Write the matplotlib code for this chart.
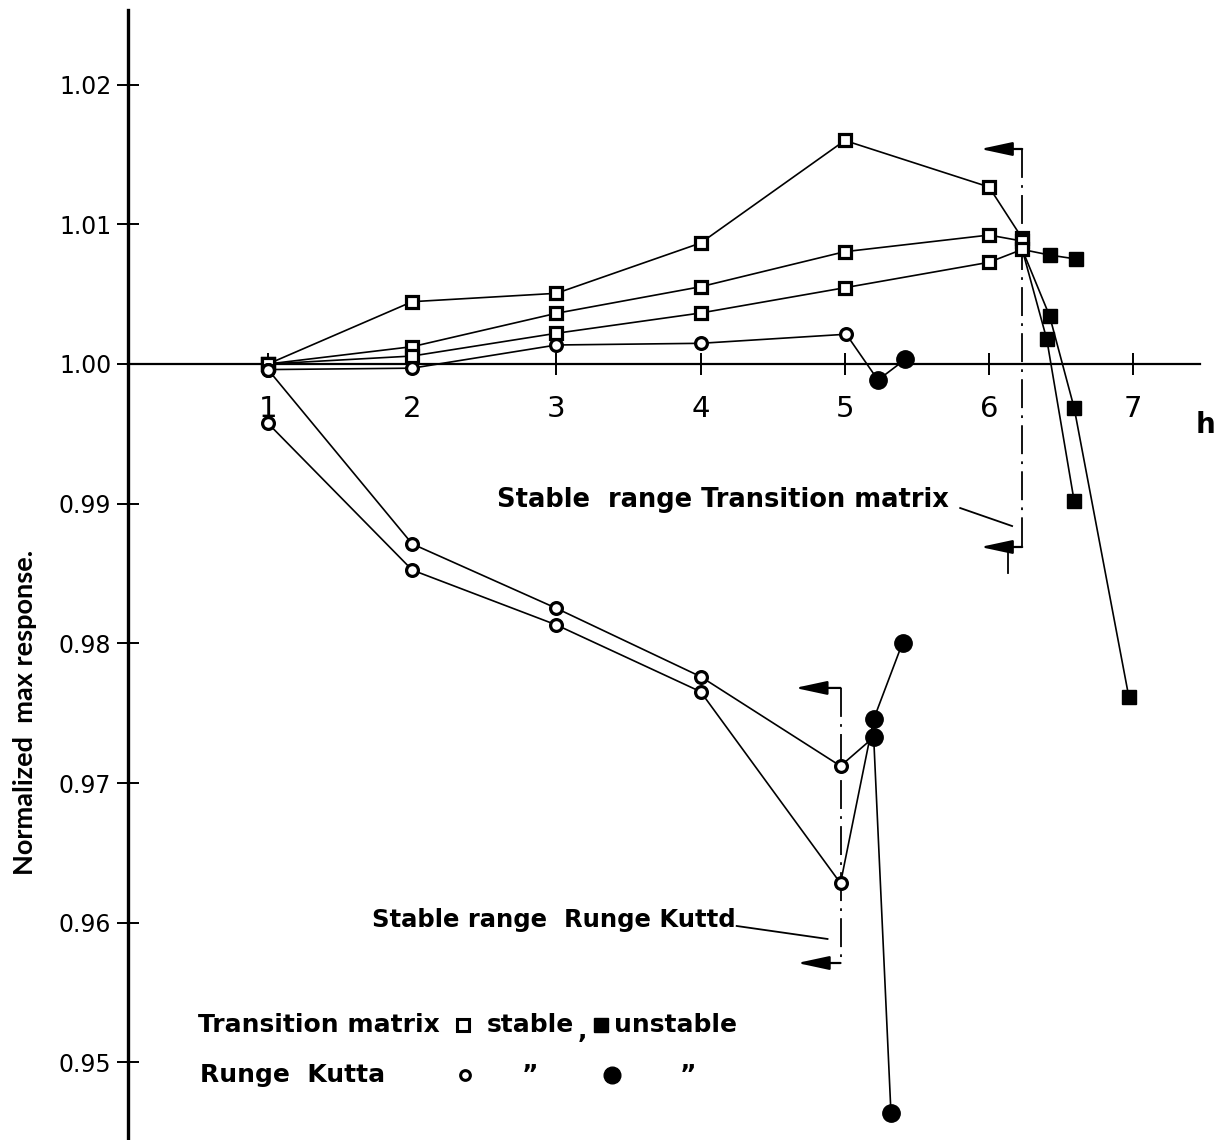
import matplotlib
matplotlib.use("Agg")
import matplotlib.pyplot as plt
import numpy as np

# ---------------- data ----------------
# Transition matrix, stable points (open squares)
h_tm = [1, 2, 3, 4, 5, 6, 6.23]
tm_a = [1.0000, 1.00446, 1.00506, 1.00866, 1.01600, 1.01267, 1.00900]
tm_b = [1.0000, 1.00124, 1.00363, 1.00553, 1.00804, 1.00923, 1.00880]
tm_c = [1.0000, 1.00057, 1.00220, 1.00365, 1.00546, 1.00728, 1.00820]
# Transition matrix, unstable points (filled squares)
h_tm_u1 = [6.42, 6.60]
tm_u1 = [1.00780, 1.00752]
h_tm_u2 = [6.42, 6.59, 6.97]
tm_u2 = [1.00344, 0.99687, 0.97614]
h_tm_u3 = [6.40, 6.59]
tm_u3 = [1.00179, 0.99021]

# Runge Kutta, stable points (open circles)
h_rk_a = [1, 2, 3, 4, 5.01]
rk_a = [0.99960, 0.99970, 1.00136, 1.00148, 1.00213]
h_rk_low = [1, 2, 3, 4, 4.97]
rk_b = [0.99960, 0.98712, 0.98251, 0.97762, 0.97122]
rk_c = [0.99575, 0.98525, 0.98132, 0.97654, 0.96283]
# Runge Kutta, unstable points (filled circles)
h_rk_au = [5.23, 5.42]
rk_au = [0.99885, 1.00034]
h_rk_bu = [5.20, 5.32]
rk_bu = [0.97328, 0.94636]
h_rk_cu = [5.20, 5.40]
rk_cu = [0.97457, 0.98003]

x_ticks = [1, 2, 3, 4, 5, 6, 7]
x_ticklabels = ["1", "2", "3", "4", "5", "6", "7"]
y_ticks = [0.95, 0.96, 0.97, 0.98, 0.99, 1.00, 1.01, 1.02]
y_ticklabels = ["0.95", "0.96", "0.97", "0.98", "0.99", "1.00", "1.01", "1.02"]

stable_tm = 6.23
stable_rk = 4.97

# ---------------- figure ----------------
W, H = 1226, 1140
fig = plt.figure(figsize=(W / 100, H / 100), dpi=100)
ax = fig.add_axes([128 / W, 0.0, 1072 / W, 1130 / H])
ax.set_xlim(0.029, 7.463)
ax.set_ylim(0.94445, 1.02534)

for s in ["top", "right"]:
    ax.spines[s].set_visible(False)
ax.spines["bottom"].set_position(("data", 1.0))
ax.spines["left"].set_linewidth(2.4)
ax.spines["bottom"].set_linewidth(1.6)

ax.set_xticks(x_ticks)
ax.set_xticklabels(x_ticklabels)
ax.set_yticks(y_ticks)
ax.set_yticklabels(y_ticklabels)
ax.tick_params(axis="x", direction="inout", length=16, width=1.4, pad=14,
               labelsize=21)
ax.tick_params(axis="y", direction="inout", length=16, width=1.4, pad=4,
               labelsize=17)

LW = 1.2
sq_open = dict(marker="s", ms=8.5, mew=2.3, mfc="white", mec="black", ls="none", zorder=5)
sq_fill = dict(marker="s", ms=10.5, mew=1, mfc="black", mec="black", ls="none", zorder=5)
ci_open = dict(marker="o", ms=8.5, mew=2.3, mfc="white", mec="black", ls="none", zorder=5)
ci_fill = dict(marker="o", ms=12.5, mew=1, mfc="black", mec="black", ls="none", zorder=5)

# Transition matrix
for ys in (tm_a, tm_b, tm_c):
    ax.plot(h_tm, ys, color="black", lw=LW, zorder=3)
    ax.plot(h_tm, ys, **sq_open)
for hs, ys in ((h_tm_u1, tm_u1), (h_tm_u2, tm_u2), (h_tm_u3, tm_u3)):
    ax.plot([h_tm[-1]] + hs, [tm_c[-1]] + ys, color="black", lw=LW, zorder=3)
    ax.plot(hs, ys, **sq_fill)

# Runge Kutta
ax.plot(h_rk_a + h_rk_au, rk_a + rk_au, color="black", lw=LW, zorder=3)
ax.plot(h_rk_a, rk_a, **ci_open)
ax.plot(h_rk_au, rk_au, **ci_fill)
for ys, hu, yu in ((rk_b, h_rk_bu, rk_bu), (rk_c, h_rk_cu, rk_cu)):
    ax.plot(h_rk_low + hu, ys + yu, color="black", lw=LW, zorder=3)
    ax.plot(h_rk_low, ys, **ci_open)
    ax.plot(hu, yu, **ci_fill)

# ---------------- stable range brackets ----------------
dashdot = (0, (16, 4, 1.5, 4))


def bracket(xv, ytop, ybot, xtip_top, xtip_bot):
    ax.plot([xv, xv], [ytop, ybot], color="black", lw=1.3, ls=dashdot, zorder=2)
    for yv, xt in ((ytop, xtip_top), (ybot, xtip_bot)):
        ax.annotate("", xy=(xt, yv), xytext=(xv, yv),
                    arrowprops=dict(arrowstyle="-|>,head_length=1.3,head_width=0.28",
                                    lw=1.6, color="black", shrinkA=0, shrinkB=0,
                                    mutation_scale=15))


bracket(stable_tm, 1.01539, 0.98690, 5.94, 5.94)
ax.plot([6.13, 6.13], [0.98690, 0.98504], color="black", lw=1.3)
bracket(stable_rk, 0.97681, 0.95712, 4.655, 4.67)

FAM = "DejaVu Sans"
ax.text(2.59, 0.99026, "Stable  range Transition matrix", ha="left", va="center",
        fontsize=18.5, fontweight="bold", family=FAM)
ax.plot([5.80, 6.16], [0.98969, 0.98840], color="black", lw=1.3)
ax.text(1.72, 0.96020, "Stable range  Runge Kuttd", ha="left", va="center",
        fontsize=17.5, fontweight="bold", family=FAM)
ax.plot([4.25, 4.88], [0.95977, 0.95884], color="black", lw=1.3)

# axis labels
fig.text(1205 / W, 1 - 425 / H, "h", ha="center", va="center", fontsize=20,
         fontweight="bold", family=FAM)
fig.text(25 / W, 1 - 712 / H, "Normalized  max response.", rotation=90,
         ha="center", va="center", fontsize=19.5, fontweight="bold", family="Lato")

# ---------------- legend text ----------------
ltxt = dict(fontsize=18, fontweight="bold", family=FAM, va="center", ha="left")
y1 = 1 - 1025 / H
y2 = 1 - 1075 / H
fig.text(198 / W, y1, "Transition matrix", **ltxt)
fig.text(487 / W, y1, "stable", **ltxt)
fig.text(578 / W, y1 - 0.005, ",", **ltxt)
fig.text(614 / W, y1, "unstable", **ltxt)
fig.text(200 / W, y2, "Runge  Kutta", **ltxt)
fig.text(530 / W, y2, "\u201d", ha="center", va="center", fontsize=18,
         fontweight="bold", family=FAM)
fig.text(688 / W, y2, "\u201d", ha="center", va="center", fontsize=18,
         fontweight="bold", family=FAM)

leg_markers = [
    (463, 1025, dict(marker="s", ms=8, mew=2.2, mfc="white", mec="black")),
    (601, 1025, dict(marker="s", ms=10, mew=1, mfc="black", mec="black")),
    (465, 1075, dict(marker="o", ms=7, mew=2.2, mfc="white", mec="black")),
    (612, 1075, dict(marker="o", ms=12, mew=1, mfc="black", mec="black")),
]
for px, py, st in leg_markers:
    ax.plot([px / W], [1 - py / H], transform=fig.transFigure, clip_on=False,
            ls="none", **st)

fig.savefig("out.png", dpi=100, facecolor="white")
